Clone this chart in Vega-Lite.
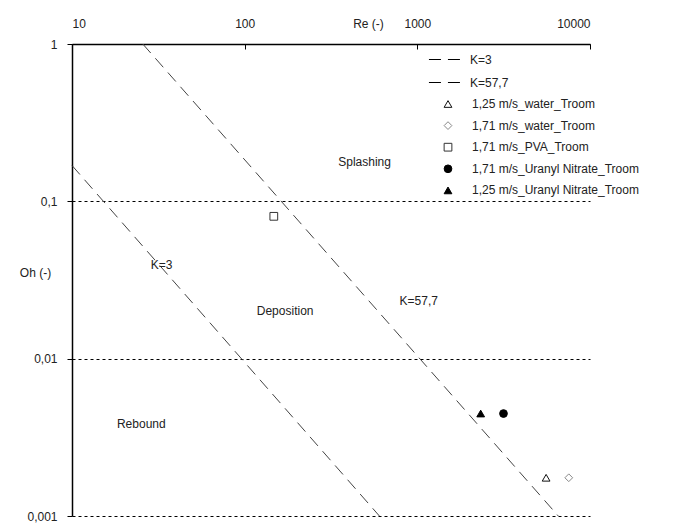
{
  "$schema": "https://vega.github.io/schema/vega-lite/v6.json",
  "width": 518,
  "height": 472,
  "autosize": "none",
  "padding": {"left": 72, "top": 44, "right": 87, "bottom": 9},
  "background": "white",
  "config": {
    "view": {"stroke": null},
    "font": "Liberation Sans",
    "axis": {"labelFont": "Liberation Sans", "titleFont": "Liberation Sans", "labelFontSize": 12, "titleFontSize": 12, "labelColor": "#222", "titleColor": "#222", "titleFontWeight": "normal"},
    "legend": {"labelFont": "Liberation Sans", "labelFontSize": 12, "labelColor": "#222", "padding": 0, "labelLimit": 400}
  },
  "datasets": {
    "lines": [
      {"series": "K=3", "Re": 10, "Oh": 0.169},
      {"series": "K=3", "Re": 603, "Oh": 0.001},
      {"series": "K=57,7", "Re": 25.7, "Oh": 1},
      {"series": "K=57,7", "Re": 6550, "Oh": 0.001}
    ],
    "points": [
      {"series": "1,25 m/s_water_Troom", "Re": 5570, "Oh": 0.00175},
      {"series": "1,71 m/s_water_Troom", "Re": 7535, "Oh": 0.00175},
      {"series": "1,71 m/s_PVA_Troom", "Re": 147.5, "Oh": 0.0803},
      {"series": "1,71 m/s_Uranyl Nitrate_Troom", "Re": 3155, "Oh": 0.00448},
      {"series": "1,25 m/s_Uranyl Nitrate_Troom", "Re": 2328, "Oh": 0.00448}
    ],
    "labels": [
      {"label": "Splashing", "Re": 495, "Oh": 0.179},
      {"label": "Deposition", "Re": 171.5, "Oh": 0.02},
      {"label": "K=3", "Re": 33, "Oh": 0.0396},
      {"label": "K=57,7", "Re": 1019, "Oh": 0.0231},
      {"label": "Rebound", "Re": 25.2, "Oh": 0.00387}
    ]
  },
  "layer": [
    {
      "data": {"name": "lines"},
      "mark": {"type": "line", "stroke": "#444", "strokeWidth": 1},
      "encoding": {
        "x": {
          "field": "Re", "type": "quantitative",
          "scale": {"type": "log", "domain": [10, 10000], "nice": false},
          "axis": {
            "orient": "top", "values": [10, 100, 1000, 10000], "format": "d",
            "title": "Re (-)", "titleX": 296, "titleY": -21, "titleBaseline": "middle", "titleAlign": "center",
            "tickSize": -5, "tickColor": "#000", "domainColor": "#000", "domainWidth": 1.5,
            "labelPadding": 19, "grid": false
          }
        },
        "y": {
          "field": "Oh", "type": "quantitative",
          "scale": {"type": "log", "domain": [0.001, 1], "nice": false},
          "axis": {
            "values": [0.001, 0.01, 0.1, 1],
            "labelExpr": "replace(format(datum.value, '~g'), '.', ',')",
            "title": "Oh (-)", "titleAngle": 0, "titleX": -37, "titleY": 228, "titleAlign": "center", "titleBaseline": "middle",
            "tickSize": 5, "tickColor": "#000", "domainColor": "#000", "domainWidth": 1.5, "labelPadding": 10,
            "grid": true, "gridColor": "#000", "gridDash": [3, 3], "gridWidth": 1
          }
        },
        "strokeDash": {
          "field": "series", "type": "nominal",
          "scale": {"domain": ["K=3", "K=57,7"], "range": [[12, 7], [12, 7]]},
          "legend": {
            "title": null, "orient": "none", "legendX": 356, "legendY": -1.5,
            "symbolType": "stroke", "symbolSize": 1030, "symbolStrokeColor": "#000", "symbolStrokeWidth": 1,
            "symbolDash": [15, 5],
            "rowPadding": 0, "labelOffset": 8
          }
        }
      }
    },
    {
      "data": {"name": "points"},
      "mark": {"type": "point", "filled": false, "strokeWidth": 1, "opacity": 1},
      "encoding": {
        "x": {"field": "Re", "type": "quantitative"},
        "y": {"field": "Oh", "type": "quantitative"},
        "shape": {
          "field": "series", "type": "nominal",
          "scale": {
            "domain": ["1,25 m/s_water_Troom", "1,71 m/s_water_Troom", "1,71 m/s_PVA_Troom", "1,71 m/s_Uranyl Nitrate_Troom", "1,25 m/s_Uranyl Nitrate_Troom"],
            "range": ["triangle-up", "diamond", "square", "circle", "triangle-up"]
          },
          "legend": {
            "title": null, "orient": "none", "legendX": 370, "legendY": 54,
            "symbolSize": 60, "rowPadding": 9.6, "labelOffset": 18, "symbolStrokeWidth": 1
          }
        },
        "fill": {
          "field": "series", "type": "nominal",
          "scale": {
            "domain": ["1,25 m/s_water_Troom", "1,71 m/s_water_Troom", "1,71 m/s_PVA_Troom", "1,71 m/s_Uranyl Nitrate_Troom", "1,25 m/s_Uranyl Nitrate_Troom"],
            "range": ["white", "white", "white", "black", "black"]
          }
        },
        "stroke": {
          "field": "series", "type": "nominal",
          "scale": {
            "domain": ["1,25 m/s_water_Troom", "1,71 m/s_water_Troom", "1,71 m/s_PVA_Troom", "1,71 m/s_Uranyl Nitrate_Troom", "1,25 m/s_Uranyl Nitrate_Troom"],
            "range": ["#111", "#888", "#333", "black", "black"]
          }
        },
        "size": {"value": 60}
      }
    },
    {
      "data": {"name": "labels"},
      "mark": {"type": "text", "font": "Liberation Sans", "fontSize": 12, "color": "#222", "align": "center", "baseline": "middle"},
      "encoding": {
        "x": {"field": "Re", "type": "quantitative"},
        "y": {"field": "Oh", "type": "quantitative"},
        "text": {"field": "label"}
      }
    }
  ]
}
